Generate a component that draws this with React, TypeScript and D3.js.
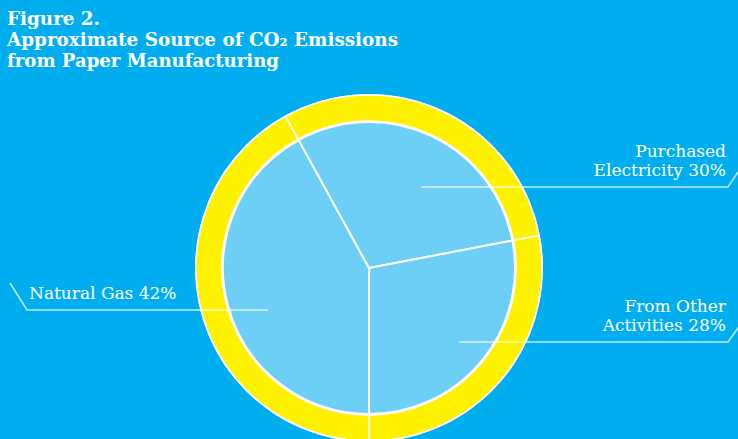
import React from "react";
import * as d3 from "d3";

const categories = ["Natural Gas", "Purchased Electricity", "From Other Activities"];
const shares = [42, 30, 28];
const labelLines = [["Natural Gas 42%"], ["Purchased", "Electricity 30%"], ["From Other", "Activities 28%"]];
const titleLines = ["Figure 2.", "Approximate Source of CO\u2082 Emissions", "from Paper Manufacturing"];

const W = 738, H = 439;
const BG = "#00AEEF", PIE = "#6DCFF6", RING = "#FFF200";

export default function App() {
  const cx = 369, cy = 268;
  const rPie = 146, rRingIn = 147, rRingOut = 173;
  const pie = d3.pie<number>().sort(null).value(d => d).startAngle(Math.PI).endAngle(Math.PI * 3);
  const arcs = pie(shares);
  const pieArc = d3.arc<d3.PieArcDatum<number>>().innerRadius(0).outerRadius(rPie);
  const ringArc = d3.arc<d3.PieArcDatum<number>>().innerRadius(rRingIn).outerRadius(rRingOut);

  // annotation layout (label anchor, leader line)
  const ann = [
    { x: 29, anchor: "start", y0: 299, line: [[10, 283], [27, 310], [268, 310]] },
    { x: 726, anchor: "end", y0: 157, line: [[421, 187], [728, 187], [738, 172]] },
    { x: 726, anchor: "end", y0: 312, line: [[459, 342], [728, 342], [738, 328]] },
  ];

  return (
    <svg width={W} height={H} style={{ position: "absolute", left: 0, top: 0 }} xmlns="http://www.w3.org/2000/svg">
      <rect width={W} height={H} fill={BG} />
      <g fontFamily="'DejaVu Serif', serif" fontWeight="bold" fill="#fff" fontSize={18}>
        {titleLines.map((t, i) => (
          <text key={i} x={7} y={25 + i * 21} textLength={i === 0 ? 93 : i === 1 ? 391 : 272} lengthAdjust="spacingAndGlyphs">{t}</text>
        ))}
      </g>
      <g transform={`translate(${cx},${cy})`}>
        <circle r={rRingOut + 1} fill="#fff" />
        {arcs.map((a, i) => (
          <path key={"r" + i} d={ringArc(a) || ""} fill={RING} stroke="#fff" strokeWidth={1.5} />
        ))}
        <circle r={rRingIn} fill="#fff" />
        {arcs.map((a, i) => (
          <path key={"p" + i} d={pieArc(a) || ""} fill={PIE} stroke="#fff" strokeWidth={2} strokeLinejoin="round" />
        ))}
      </g>
      {ann.map((a, i) => (
        <g key={categories[i]}>
          <path d={d3.line()(a.line as [number, number][]) || ""} fill="none" stroke="#fff" strokeOpacity={0.75} strokeWidth={1.5} />
          {labelLines[i].map((t, j) => (
            <text key={j} x={a.x} y={a.y0 + j * 19} textAnchor={a.anchor as any} fill="#fff" fontFamily="'DejaVu Serif', serif" fontSize={17}>{t}</text>
          ))}
        </g>
      ))}
    </svg>
  );
}
